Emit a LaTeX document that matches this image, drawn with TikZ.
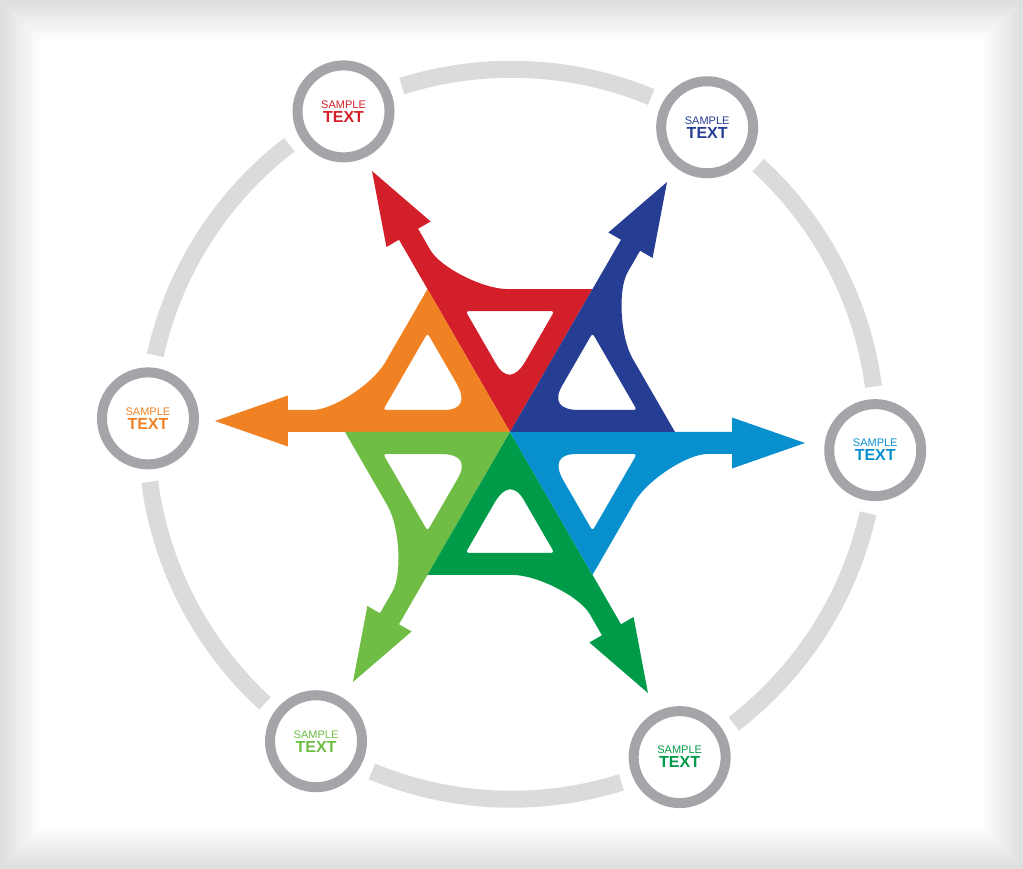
\documentclass[tikz,border=0pt]{standalone}
\usepackage{fontspec}
\setmainfont{Liberation Sans}
\usetikzlibrary{calc}
\definecolor{RedClr}{RGB}{210,31,42}
\definecolor{OrangeClr}{RGB}{240,130,36}
\definecolor{LimeClr}{RGB}{112,189,69}
\definecolor{GreenClr}{RGB}{0,155,72}
\definecolor{CyanClr}{RGB}{8,143,205}
\definecolor{NavyClr}{RGB}{37,61,147}
\definecolor{RingClr}{RGB}{218,219,221}
\definecolor{NodeClr}{RGB}{164,165,168}
\definecolor{FrameClr}{RGB}{222,223,225}

\tikzset{
  ringarc/.style={RingClr,line width=17pt},
  txtcircle/.style={circle,draw=NodeClr,line width=10pt,fill=white,minimum size=92pt,inner sep=0pt,
    align=center,font=\fontsize{11}{14}\selectfont}
}

\begin{document}
\begin{tikzpicture}[x=1pt,y=1pt]
\useasboundingbox (-510,-437) rectangle (513,432);

\foreach \p in {0,10,...,100}
  \fill[white!\p!FrameClr] (-510+0.4*\p,-437+0.4*\p) rectangle (513-0.4*\p,432-0.4*\p);

\coordinate (M) at (1.6,-2.25);

\foreach \r/\c/\n in {0/RedClr/red,60/OrangeClr/orange,120/LimeClr/lime,180/GreenClr/green,240/CyanClr/cyan,300/NavyClr/navy}{
  \draw[ringarc] ($(M)+(127.5+\r:365)$) arc[start angle=127.5+\r,end angle=167.5+\r,radius=365];
  \node[txtcircle,text=\c] (txt-\n) at ($(M)+(117.5+\r:364)$)
    {SAMPLE\\{\fontsize{16}{14}\bfseries TEXT}};
  \begin{scope}[rotate=\r]
    \coordinate (B) at (60:165);
    \coordinate (X) at ($(120:152.3)+(30:22)$);
    \coordinate (T) at ($(120:295)+(30:11)$);
    \coordinate (h1) at (90:44);
    \coordinate (h2) at ($(90:95.26)+(30:51.26)$);
    \coordinate (h3) at ($(90:95.26)+(150:51.26)$);
    \fill[\c,even odd rule] (0,0) -- (B) -- ($(X)+(0:55)$)
      .. controls ($(X)+(0:30)$) and ($(X)+(120:25)$) .. ($(X)+(120:45)$)
      -- ($(120:222)+(30:22)$) -- ($(120:222)+(30:36.5)$) -- (T)
      -- ($(120:222)+(30:-14.5)$) -- (120:222) -- cycle
      [rounded corners=3pt] ($(h1)!.35!(h2)$) -- (h2) -- (h3) -- ($(h1)!.35!(h3)$)
      [sharp corners] .. controls ($(h1)!.12!(h3)$) and ($(h1)!.12!(h2)$) .. ($(h1)!.35!(h2)$) -- cycle;
  \end{scope}
}

\end{tikzpicture}
\end{document}
